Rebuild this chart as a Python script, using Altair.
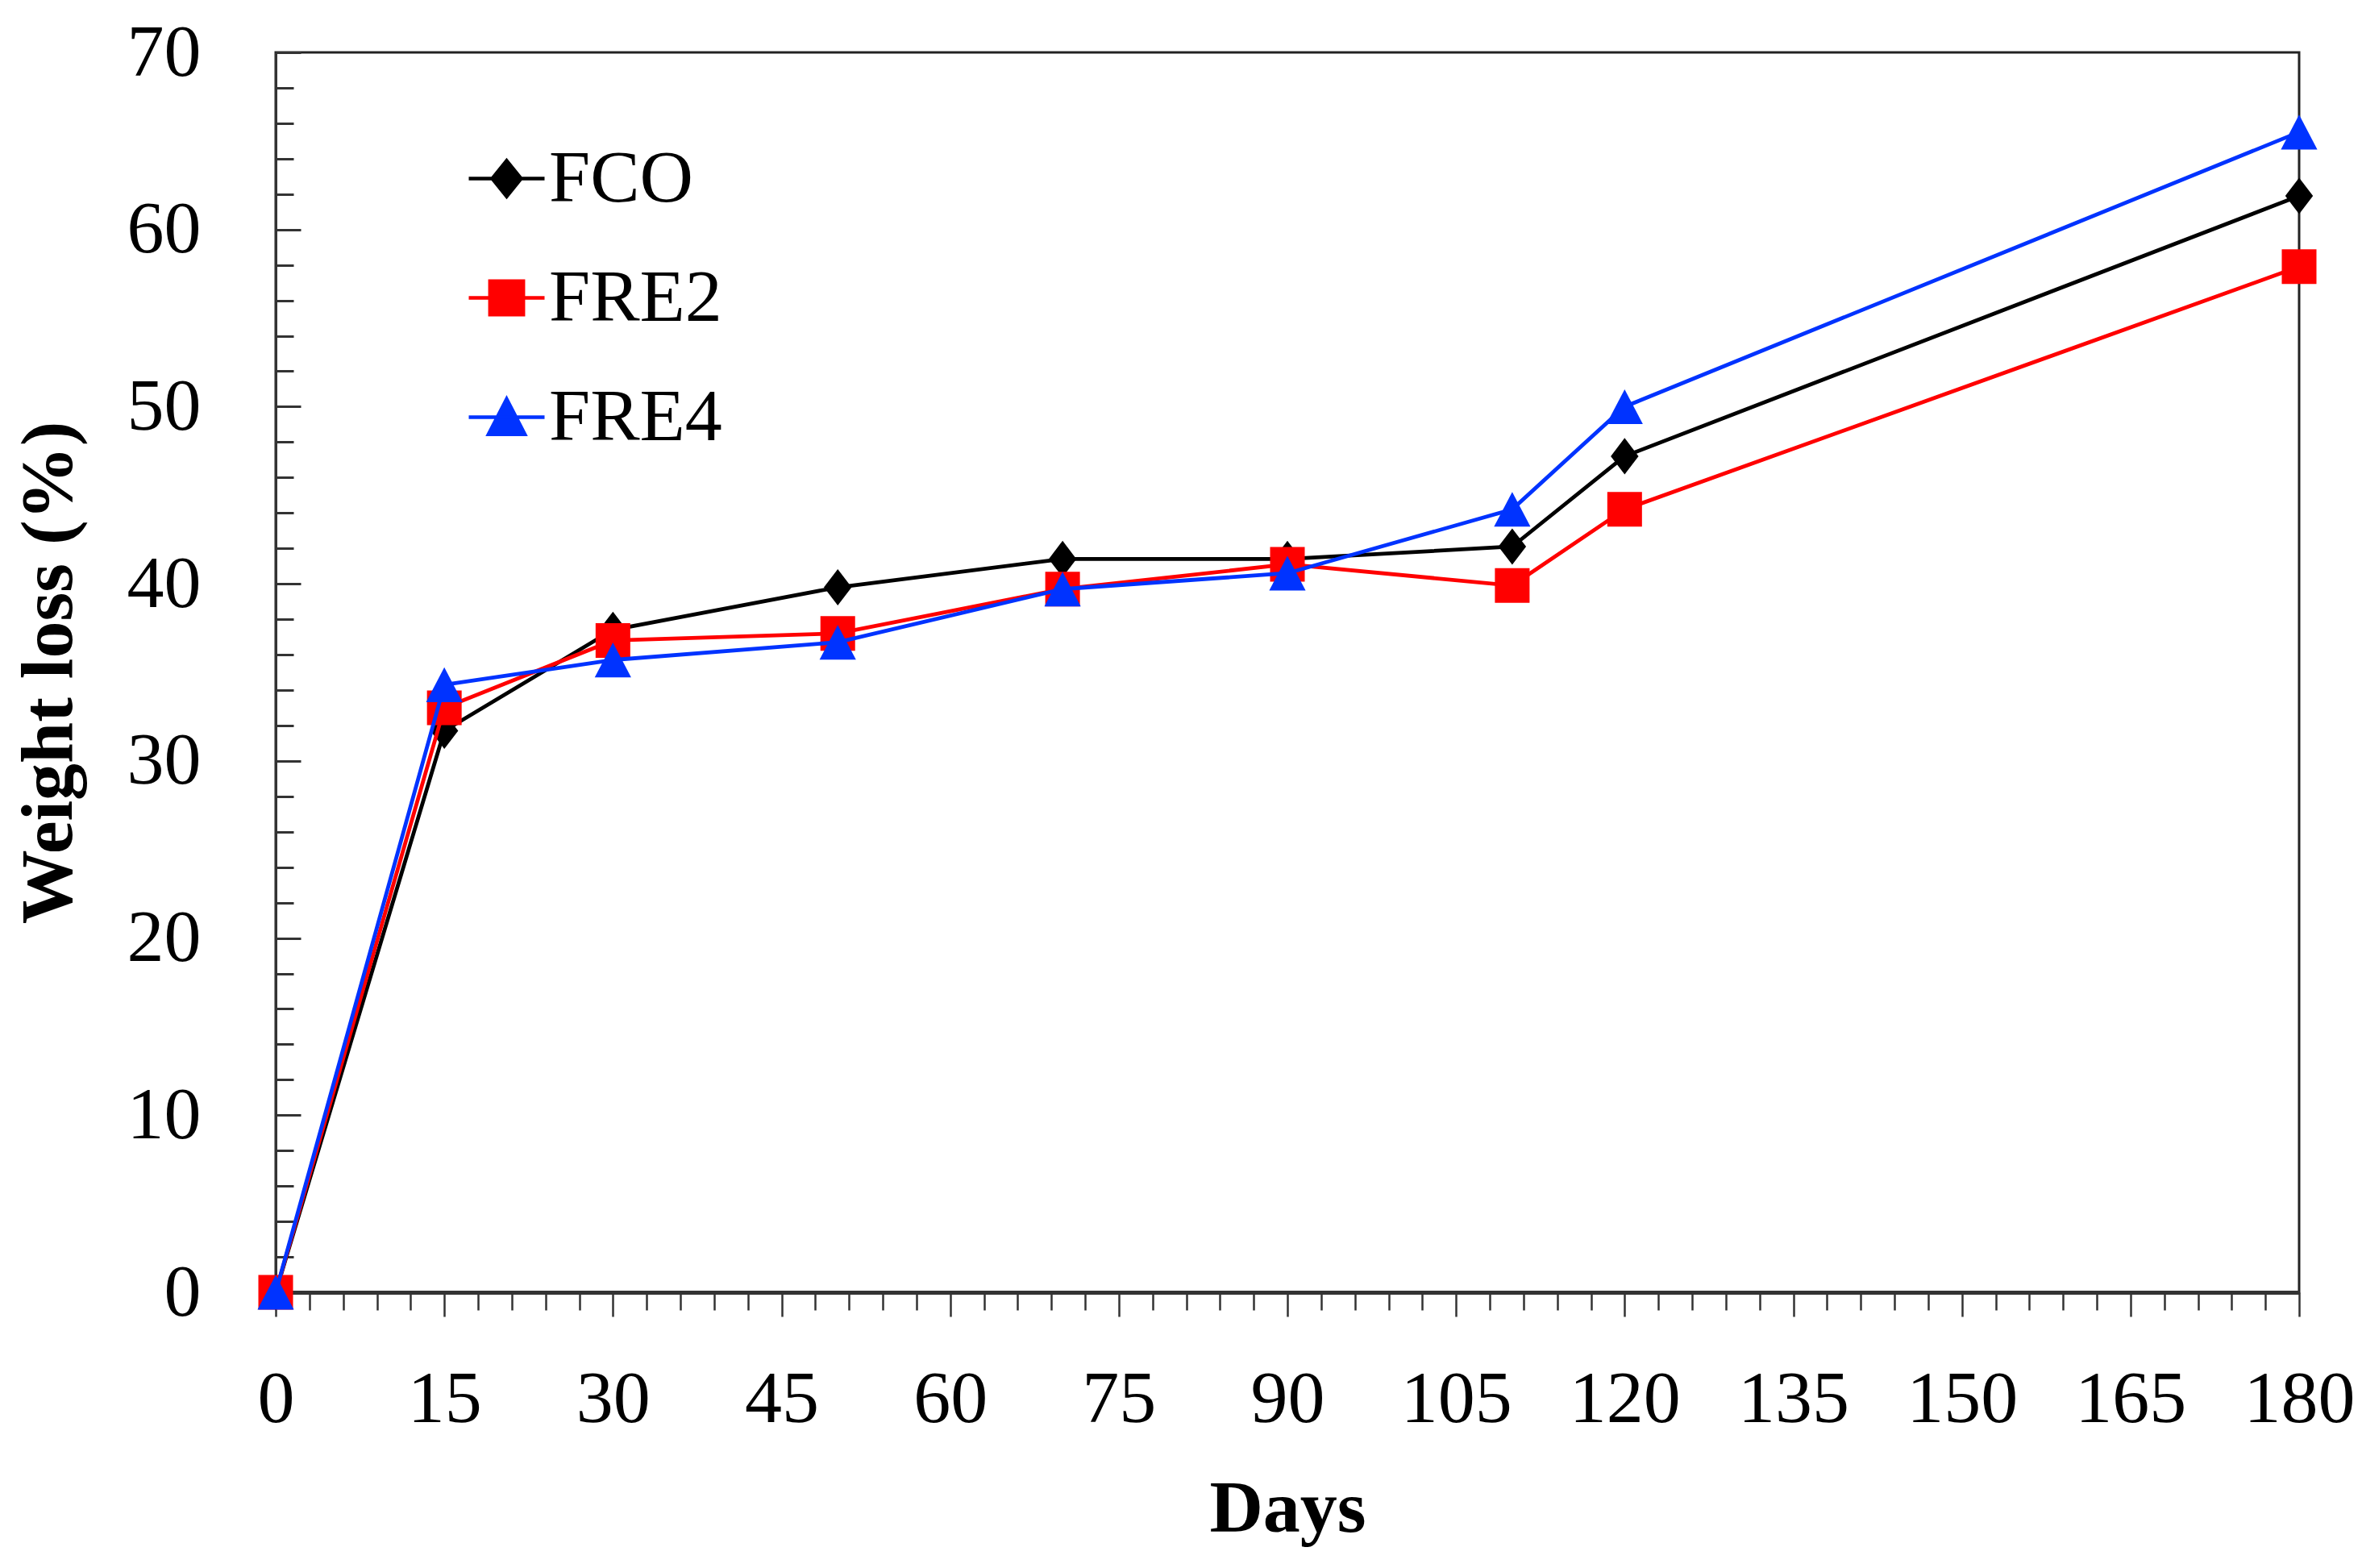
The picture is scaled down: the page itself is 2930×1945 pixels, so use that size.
import pandas as pd
import altair as alt

# values
days = [0, 15, 30, 50, 70, 90, 110, 120, 180]
fco = [0, 31.7, 37.4, 39.8, 41.4, 41.4, 42.1, 47.2, 61.9]
fre2 = [0, 33.0, 36.8, 37.2, 39.7, 41.1, 39.9, 44.2, 57.9]
fre4 = [0, 34.3, 35.7, 36.7, 39.7, 40.6, 44.2, 50.0, 65.5]

series = ['FCO', 'FRE2', 'FRE4']
colors = ['#000000', '#ff0000', '#0033ff']

x_major = list(range(0, 181, 15))
x_minor = [d for d in range(0, 181, 3) if d % 15]
y_major = list(range(0, 71, 10))
y_minor = [v for v in range(0, 71, 2) if v % 10]

# marker shapes (diamond, square, triangle) and the same with a line through them for the legend
marker_paths = ['M0,-1.05L0.8,0L0,1.05L-0.8,0Z',
                'M-1,-1H1V1H-1Z',
                'M0,-1L1.05,1L-1.05,1Z']
legend_paths = ['M-1,0H1M0,-0.47L0.38,0L0,0.47L-0.38,0Z',
                'M-1,0H1M-0.44,-0.44H0.44V0.44H-0.44Z',
                'M-1,0H1M0,-0.48L0.48,0.45L-0.48,0.45Z']

rows = []
for name, vals in zip(series, [fco, fre2, fre4]):
    for d, v in zip(days, vals):
        rows.append({'day': d, 'loss': v, 'sample': name})
df = pd.DataFrame(rows)

W, H = 2510, 1538
FONT = 'Liberation Serif'
FS = 92

x_scale = alt.Scale(domain=[0, 180], nice=False, zero=False)
y_scale = alt.Scale(domain=[0, 70], nice=False)
color_scale = alt.Scale(domain=series, range=colors)

base = alt.Chart(df)


def pos(x_axis, y_axis):
    return dict(x=alt.X('day:Q', scale=x_scale, axis=x_axis),
                y=alt.Y('loss:Q', scale=y_scale, axis=y_axis))


# axis with labels and titles
axis_main = base.mark_point().transform_filter('false').encode(**pos(
    alt.Axis(orient='bottom', values=x_major, format='d', title='Days',
             titleFont=FONT, titleFontSize=FS, titleFontWeight='bold', titleColor='black',
             titlePadding=45, labelFont=FONT, labelFontSize=FS, labelColor='black',
             labelPadding=57, labelFlush=False, labelOverlap=False, labelBound=False,
             tickSize=30, tickWidth=2.5, tickColor='#333333',
             domainWidth=5, domainColor='#333333', grid=False),
    alt.Axis(orient='left', values=y_major, format='d', title='Weight loss (%)',
             titleFont=FONT, titleFontSize=FS, titleFontWeight='bold', titleColor='black',
             titlePadding=50, labelFont=FONT, labelFontSize=FS, labelColor='black',
             labelPadding=93, labelOverlap=False, labelFlush=False, labelBound=False,
             ticks=False, tickSize=0, domainWidth=3, domainColor='#333333', grid=False)))

# minor x ticks, major inward y ticks
axis_ticks = base.mark_point().transform_filter('false').encode(**pos(
    alt.Axis(orient='bottom', values=x_minor, labels=False, domain=False, title=None,
             tickSize=22, tickWidth=2.5, tickColor='#333333', grid=False),
    alt.Axis(orient='right', offset=-W, values=y_major, labels=False, domain=False,
             title=None, tickSize=31, tickWidth=3, tickColor='#333333', grid=False)))

legend = alt.Legend(orient='none', legendX=237, legendY=107, title=None, padding=0,
                    labelFont=FONT, labelFontSize=FS, labelColor='black', labelOffset=3,
                    labelLimit=500, symbolSize=8836, symbolStrokeWidth=4.5,
                    symbolOpacity=1, rowPadding=52)

# minor inward y ticks + legend
axis_minor = base.mark_point(filled=True, opacity=1, strokeWidth=4.5).transform_filter('false').encode(
    **pos(None,
          alt.Axis(orient='right', offset=-W, values=y_minor, labels=False, domain=False,
                   title=None, tickSize=22, tickWidth=3, tickColor='#333333', grid=False)),
    fill=alt.Fill('sample:N', scale=alt.Scale(domain=series, range=colors), legend=legend),
    stroke=alt.Stroke('sample:N', scale=alt.Scale(domain=series, range=colors), legend=legend),
    shape=alt.Shape('sample:N', scale=alt.Scale(domain=series, range=legend_paths), legend=legend),
)

layers = [axis_main, axis_ticks, axis_minor]
# draw series one after another, line then markers
for name in series:
    sub = base.transform_filter(alt.datum.sample == name)
    layers.append(sub.mark_line(strokeWidth=4.8).encode(
        **pos(None, None),
        color=alt.Color('sample:N', scale=color_scale, legend=None)))
    layers.append(sub.mark_point(filled=True, opacity=1, size=1850).encode(
        **pos(None, None),
        color=alt.Color('sample:N', scale=color_scale, legend=None),
        shape=alt.Shape('sample:N', scale=alt.Scale(domain=series, range=marker_paths), legend=None)))

chart = alt.layer(*layers).resolve_axis(
    x='independent', y='independent'
).resolve_scale(
    shape='independent', fill='independent', stroke='independent'
).properties(
    width=W,
    height=H,
    autosize=alt.AutoSizeParams(type='none'),
    padding={'left': 334, 'top': 57, 'right': 70, 'bottom': 334},
    background='white'
).configure(
    font=FONT
).configure_view(
    stroke='#222222',
    strokeWidth=3
)

chart.save("out.html", embed_options={"renderer": "svg", "actions": False})
